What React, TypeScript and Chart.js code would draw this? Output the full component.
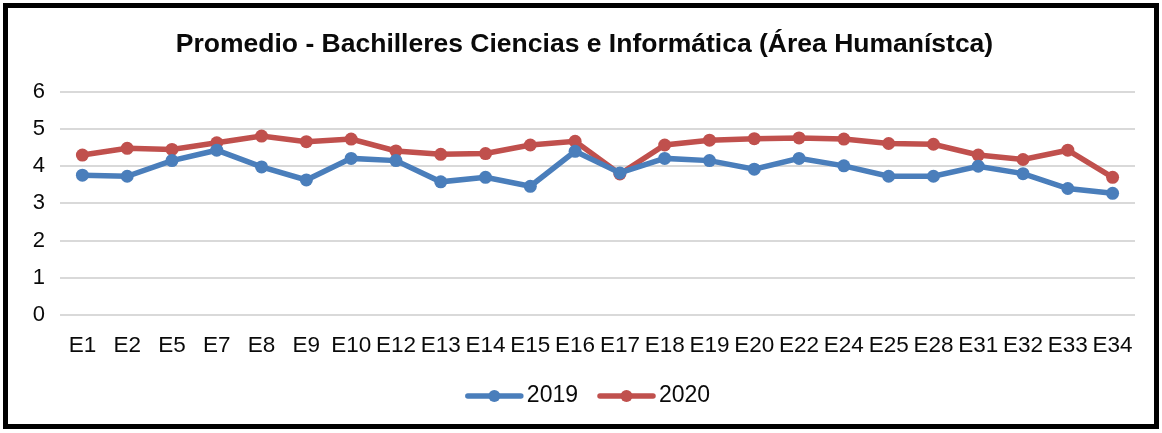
import React, { useEffect, useRef } from "react";
import { Chart, registerables } from "chart.js";

Chart.register(...registerables);

const TITLE = "Promedio - Bachilleres Ciencias e Informática (Área Humanístca)";
const categories = ["E1","E2","E5","E7","E8","E9","E10","E12","E13","E14","E15","E16","E17","E18","E19","E20","E22","E24","E25","E28","E31","E32","E33","E34"];
const series2019 = [3.76,3.73,4.15,4.43,3.98,3.63,4.21,4.15,3.58,3.70,3.46,4.40,3.82,4.21,4.15,3.92,4.21,4.01,3.73,3.73,4.00,3.80,3.40,3.27];
const series2020 = [4.30,4.48,4.45,4.63,4.81,4.66,4.73,4.41,4.32,4.34,4.57,4.67,3.79,4.57,4.70,4.74,4.76,4.73,4.61,4.59,4.30,4.18,4.43,3.70];
const yTicks = [0, 1, 2, 3, 4, 5, 6];

const BLUE = "#4A7EBB";
const RED = "#C0504D";
const FONT = "'Liberation Sans', Arial, sans-serif";

const legendPlugin = {
  id: "lineLegend",
  afterDraw(chart: any) {
    const ctx = chart.ctx;
    ctx.save();
    ctx.font = `23px ${FONT}`;
    ctx.textBaseline = "middle";
    const lineW = 57;
    const gapText = 4;
    const gapItem = 20;
    const items = chart.data.datasets.map((d: any) => ({
      label: d.label,
      color: d.borderColor,
      w: lineW + gapText + ctx.measureText(d.label).width,
    }));
    const total = items.reduce((s: number, it: any) => s + it.w, 0) + gapItem * (items.length - 1);
    let x = chart.width / 2 + 7 - total / 2;
    const y = 396;
    for (const it of items) {
      ctx.strokeStyle = it.color;
      ctx.lineWidth = 5.5;
      ctx.lineCap = "round";
      ctx.beginPath();
      ctx.moveTo(x + 2, y);
      ctx.lineTo(x + lineW - 2, y);
      ctx.stroke();
      ctx.fillStyle = it.color;
      ctx.beginPath();
      ctx.arc(x + lineW / 2, y, 6, 0, Math.PI * 2);
      ctx.fill();
      ctx.fillStyle = "#0a0a0a";
      ctx.textAlign = "left";
      ctx.fillText(it.label, x + lineW + gapText, y);
      x += it.w + gapItem;
    }
    ctx.restore();
  },
};

export default function App() {
  const ref = useRef<HTMLCanvasElement | null>(null);
  useEffect(() => {
    document.body.style.margin = "0";
    const chart = new Chart(ref.current!, {
      type: "line",
      data: {
        labels: categories,
        datasets: [
          {
            label: "2019",
            data: series2019,
            borderColor: BLUE,
            backgroundColor: BLUE,
            borderWidth: 5.5,
            pointRadius: 6.5,
            pointBorderWidth: 0,
            pointBackgroundColor: BLUE,
            tension: 0,
          },
          {
            label: "2020",
            data: series2020,
            borderColor: RED,
            backgroundColor: RED,
            borderWidth: 5.5,
            pointRadius: 6.5,
            pointBorderWidth: 0,
            pointBackgroundColor: RED,
            tension: 0,
          },
        ],
      },
      options: {
        animation: false,
        responsive: false,
        maintainAspectRatio: false,
        layout: { padding: { left: 7, right: 0, top: 0, bottom: 57 } },
        plugins: {
          legend: { display: false },
          tooltip: { enabled: false },
          title: {
            display: true,
            text: TITLE,
            color: "#0a0a0a",
            font: { family: FONT, size: 26.5, weight: "bold", lineHeight: 1.2 },
            padding: { top: 29, bottom: 31 },
          },
        },
        scales: {
          x: {
            offset: true,
            grid: { display: false, drawTicks: false, offset: true },
            border: { display: false },
            ticks: {
              autoSkip: false,
              maxRotation: 0,
              minRotation: 0,
              padding: 17,
              color: "#0a0a0a",
              font: { family: FONT, size: 22.5 },
            },
          },
          y: {
            min: 0,
            max: 6,
            afterFit: (s: any) => { s.width = 53; },
            afterBuildTicks: (s: any) => { s.ticks = yTicks.map((v) => ({ value: v })); },
            grid: { color: "#D9D9D9", lineWidth: 2, drawTicks: false },
            border: { display: false },
            ticks: {
              stepSize: 1,
              padding: 15,
              color: "#0a0a0a",
              font: { family: FONT, size: 22 },
            },
          },
          yRight: {
            position: "right",
            display: true,
            afterFit: (s: any) => { s.width = 27; },
            grid: { display: false, drawTicks: false },
            border: { display: false },
            ticks: { display: false },
          },
        },
      },
      plugins: [legendPlugin],
    } as any);
    return () => chart.destroy();
  }, []);
  return (
    <div style={{ position: "fixed", left: 0, top: 0, width: 1162, height: 433, background: "#fff" }}>
      <div
        style={{
          position: "absolute",
          left: 3,
          top: 3,
          width: 1156,
          height: 426,
          border: "5px solid #000",
          boxSizing: "border-box",
        }}
      />
      <canvas ref={ref} width={1162} height={433} style={{ position: "absolute", left: 0, top: 0 }} />
    </div>
  );
}
